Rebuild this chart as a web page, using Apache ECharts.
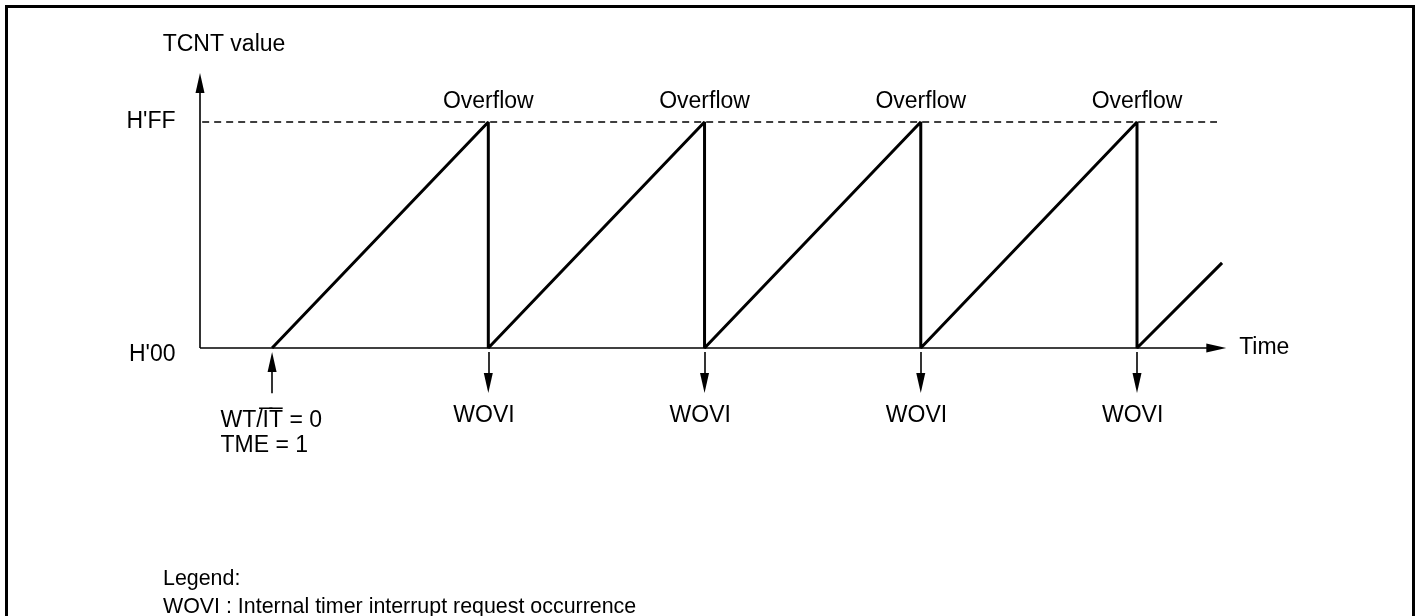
<!DOCTYPE html>
<html><head><meta charset="utf-8">
<script src="https://cdn.jsdelivr.net/npm/echarts@6/dist/echarts.min.js"></script>
<style>html,body{margin:0;padding:0;background:#fff}#c{width:1417px;height:616px}</style>
</head><body><div id="c"></div>
<script>
// Data (time units: one counter period = 3 units; counter value 0..255)
const sawX = [1, 4, 4, 7, 7, 10, 10, 13, 13, 14.18];
const sawY = [0, 255, 0, 255, 0, 255, 0, 255, 0, 96];
const overflowX = [4, 7, 10, 13];
const startX = 1;
const tickLabels = ["H'00", "H'FF"];
const tickValues = [0, 255];
const yAxisName = 'TCNT value';
const xAxisName = 'Time';
const legendLines = ['Legend:', 'WOVI : Internal timer interrupt request occurrence'];

const FONT = 'Liberation Sans, Arial, sans-serif';
const FS = 23;
const chart = echarts.init(document.getElementById('c'), null, {renderer: 'canvas'});

const sawData = sawX.map((x, i) => [x, sawY[i]]);
// arrow end coordinates are the centres of the arrowheads
const arrowLine = (a, b) => [{coord: a}, {coord: b}];
const labelSeries = (extra, data) => ({
  type: 'scatter', symbolSize: 1, clip: false, silent: true,
  itemStyle: {color: 'transparent', opacity: 1},
  label: Object.assign({show: true, color: '#000', fontFamily: FONT, fontSize: FS,
    formatter: p => p.data.t}, extra),
  data: data
});

const opt = {
  animation: false,
  grid: {left: 200, right: 186.3, top: 28.9, bottom: 161.6},
  xAxis: {type: 'value', min: 0, max: 14.3, show: false},
  yAxis: {type: 'value', min: -120, max: 360, show: false},
  series: [
    {
      type: 'line', data: sawData, symbol: 'none', clip: false,
      lineStyle: {color: '#000', width: 3}, z: 5,
      markLine: {
        silent: true, symbol: ['none', 'triangle'], symbolSize: [9, 20],
        label: {show: false},
        lineStyle: {color: '#000', type: 'solid', width: 1.6},
        data: [
          arrowLine([0, 0], [14.1, 0]),
          arrowLine([0, 0], [0, 299]),
          arrowLine([startX, -51], [startX, -15.8]),
          ...overflowX.map(x => arrowLine([x, -4.5], [x, -39.5]))
        ]
      }
    },
    {
      type: 'line', data: [[0.03, tickValues[1]], [14.11, tickValues[1]]], symbol: 'none',
      lineStyle: {color: '#000', width: 1.3, type: [7, 5]}, z: 3
    },
    labelSeries({position: 'inside'}, [
      ...overflowX.map(x => ({value: [x, 277.6], t: 'Overflow'})),
      ...overflowX.map(x => ({value: [x - 0.06, -76.7], t: 'WOVI'})),
      {value: [0.333, 342], t: yAxisName}
    ]),
    labelSeries({position: 'left', distance: 24}, [
      {value: [0, tickValues[0]], t: tickLabels[0], label: {offset: [0, 7]}},
      {value: [0, tickValues[1]], t: tickLabels[1]}
    ]),
    labelSeries({position: 'right', distance: 13}, [{value: [14.23, 0], t: xAxisName}]),
    labelSeries({position: 'right', distance: 0, lineHeight: 25,
      formatter: 'WT/I\u0305T\u0305 = 0\nTME = 1'}, [[0.277, -96.5]])
  ],
  graphic: [
    {type: 'rect', shape: {x: 6.5, y: 6.5, width: 1407, height: 640},
      style: {fill: 'none', stroke: '#000', lineWidth: 3}, silent: true},
    {type: 'text', left: 163, top: 565, style: {text: legendLines[0] + '\n' + legendLines[1],
      font: '21.4px ' + FONT, fill: '#000', lineHeight: 28}}
  ]
};
chart.setOption(opt);
</script></body></html>
